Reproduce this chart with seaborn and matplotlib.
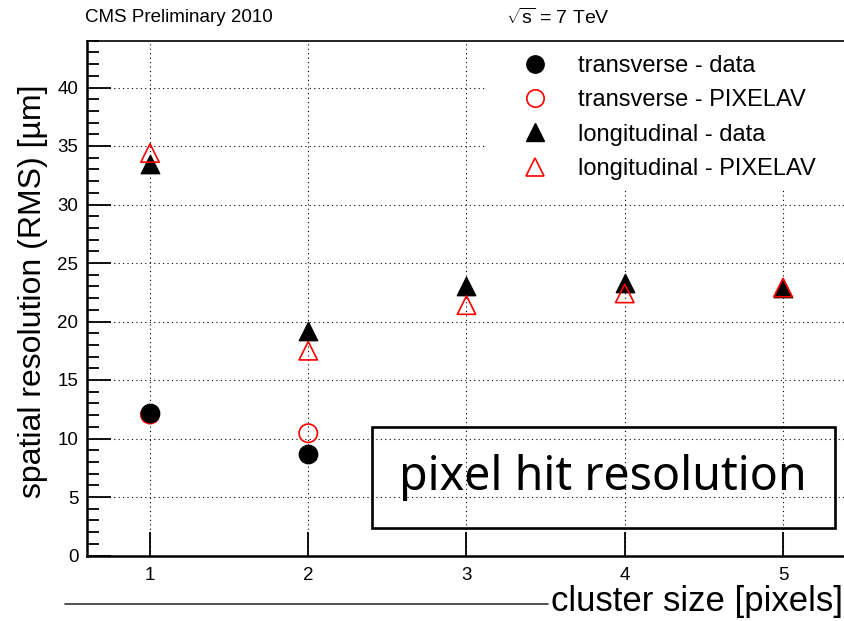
import numpy as np
import pandas as pd
import matplotlib
matplotlib.use("Agg")
import matplotlib.pyplot as plt
from matplotlib.patches import Rectangle
from matplotlib.lines import Line2D
import seaborn as sns

# cluster sizes and measured / simulated resolutions (µm)
cluster_size = [1, 2, 3, 4, 5]
transverse_data = [12.2, 8.7]
transverse_pixelav = [12.05, 10.45]
longitudinal_data = [33.5, 19.2, 23.0, 23.3, 22.9]
longitudinal_pixelav = [34.4, 17.5, 21.4, 22.4, 22.9]
series_labels = ["transverse - data", "transverse - PIXELAV",
                 "longitudinal - data", "longitudinal - PIXELAV"]
y_ticks = [0, 5, 10, 15, 20, 25, 30, 35, 40]

sns.set_theme(style="white")
plt.rcParams["font.family"] = ["Liberation Sans", "DejaVu Sans"]
plt.rcParams["text.color"] = "black"
plt.rcParams["mathtext.fontset"] = "custom"
plt.rcParams["mathtext.rm"] = "Liberation Sans"
plt.rcParams["mathtext.it"] = "Liberation Sans"

W, H = 845, 621
fig = plt.figure(figsize=(W / 100, H / 100), dpi=100)
fig.patch.set_facecolor("white")

# axes frame in pixels
ax_l, ax_r, ax_t, ax_b = 86.7, 846.3, 40.7, 555.5
ax = fig.add_axes([ax_l / W, 1 - ax_b / H, (ax_r - ax_l) / W, (ax_b - ax_t) / H])
ax.set_facecolor("white")

frames = {
    series_labels[0]: pd.DataFrame({"size": cluster_size[:len(transverse_data)], "res": transverse_data}),
    series_labels[1]: pd.DataFrame({"size": cluster_size[:len(transverse_pixelav)], "res": transverse_pixelav}),
    series_labels[2]: pd.DataFrame({"size": cluster_size, "res": longitudinal_data}),
    series_labels[3]: pd.DataFrame({"size": cluster_size, "res": longitudinal_pixelav}),
}

styles = {
    series_labels[0]: dict(marker="o", s=175, color="black", edgecolor="black", linewidth=1.0, zorder=4),
    series_labels[1]: dict(marker="o", s=175, facecolor="none", edgecolor="red", linewidth=1.2, zorder=3),
    series_labels[2]: dict(marker="^", s=175, color="black", edgecolor="black", linewidth=1.0, zorder=5),
    series_labels[3]: dict(marker="^", s=175, facecolor="none", edgecolor="red", linewidth=1.2, zorder=6),
}

for name in series_labels:
    sns.scatterplot(data=frames[name], x="size", y="res", ax=ax, legend=False, **styles[name])

ax.set_xlim(0.6, 5.4)
ax.set_ylim(0, 44)
ax.set_xticks(cluster_size)
ax.set_yticks(y_ticks)
ax.set_yticks(np.arange(0, 45, 1), minor=True)
ax.set_xlabel("")
ax.set_ylabel("")

ax.grid(True, which="major", color="black", linestyle=(0, (1, 3)), linewidth=0.8, zorder=1)
ax.set_axisbelow(True)

ax.tick_params(axis="both", which="both", direction="in", color="black", width=1.3,
               left=True, bottom=True, labelcolor="black", labelsize=13.5)
ax.tick_params(axis="both", which="major", length=17)
ax.tick_params(axis="y", which="minor", length=8.5)
ax.tick_params(axis="y", which="major", pad=6)
ax.tick_params(axis="x", which="major", pad=8)
ax.tick_params(axis="x", which="minor", length=0, bottom=False)

for side in ["left", "bottom"]:
    ax.spines[side].set_linewidth(1.8)
    ax.spines[side].set_color("black")
ax.spines["top"].set_linewidth(1.2)
ax.spines["top"].set_color("black")
ax.spines["right"].set_visible(False)

# legend panel
legend_box = Rectangle(((487 - ax_l) / (ax_r - ax_l), 1 - (190 - ax_t) / (ax_b - ax_t)),
                       (ax_r - 487) / (ax_r - ax_l), (190 - ax_t) / (ax_b - ax_t),
                       transform=ax.transAxes, facecolor="white", edgecolor="none", zorder=2)
ax.add_patch(legend_box)

handles = [
    Line2D([], [], marker="o", markersize=12.5, color="black", linestyle="none"),
    Line2D([], [], marker="o", markersize=12.5, markerfacecolor="none", markeredgecolor="red",
           markeredgewidth=1.2, linestyle="none"),
    Line2D([], [], marker="^", markersize=12.5, color="black", linestyle="none"),
    Line2D([], [], marker="^", markersize=12.5, markerfacecolor="none", markeredgecolor="red",
           markeredgewidth=1.2, linestyle="none"),
]
leg = ax.legend(handles, series_labels, loc="upper left", bbox_to_anchor=(517 / W, 1 - 55 / H),
                bbox_transform=fig.transFigure, frameon=False, fontsize=17, borderpad=0,
                borderaxespad=0, handlelength=1.5, handletextpad=1.08, labelspacing=0.52,
                numpoints=1)
leg.set_zorder(7)

# annotation box
ax.add_patch(Rectangle(((372 - ax_l) / (ax_r - ax_l), 1 - (528 - ax_t) / (ax_b - ax_t)),
                       (835 - 372) / (ax_r - ax_l), (528 - 427) / (ax_b - ax_t),
                       transform=ax.transAxes, facecolor="none", edgecolor="black",
                       linewidth=1.9, zorder=6))
fig.text(603 / W, 1 - 490 / H, "pixel hit resolution", ha="center", va="baseline",
         fontsize=33.5, family=["Noto Sans", "DejaVu Sans"], color="black")

# axis titles and header
fig.text(33 / W, 1 - 291 / H, "spatial resolution (RMS) [µm]", rotation=90,
         ha="center", va="center", fontsize=23)
fig.text(843 / W, 1 - 601 / H, "cluster size [pixels]", ha="right", va="center", fontsize=25)
fig.text(85 / W, 1 - 18 / H, "CMS Preliminary 2010", ha="left", va="center", fontsize=13.5)
fig.text(506 / W, 1 - 18 / H, r"$\sqrt{s}$ = 7 TeV", ha="left", va="center", fontsize=14)

fig.add_artist(Line2D([65 / W, 548 / W], [1 - 604 / H, 1 - 604 / H], transform=fig.transFigure,
                      color="#333333", linewidth=1.2))

fig.savefig("out.png", dpi=100, facecolor="white")
